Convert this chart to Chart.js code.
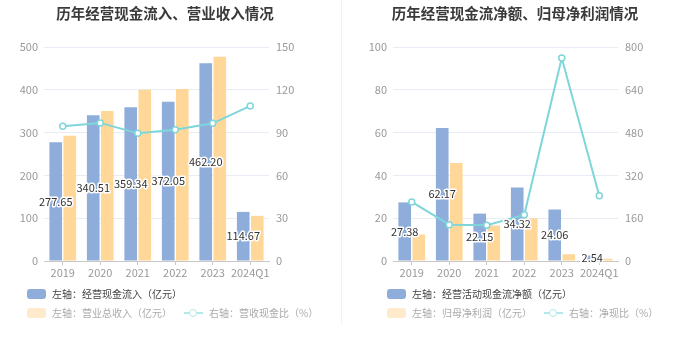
<!DOCTYPE html>
<html>
<head>
<meta charset="utf-8">
<script src="https://cdn.jsdelivr.net/npm/chart.js@4/dist/chart.umd.min.js"></script>
<style>
  html, body { margin: 0; padding: 0; background: #fff; }
  body { width: 680px; height: 349px; position: relative; overflow: hidden;
         font-family: 'Noto Sans CJK SC', 'Noto Sans', sans-serif; }
  .panel { position: absolute; top: 0; width: 340px; height: 349px; }
  .panel canvas { position: absolute; left: 0; top: 0; }
  .title { position: absolute; top: 2px; width: 340px; text-align: center;
           font-size: 14.5px; font-weight: bold; color: #3a3a3a; }
  .sep { position: absolute; left: 341px; top: 0; width: 1px; height: 325px; background: #f2f2f2; }
  .legend { position: absolute; font-size: 10px; white-space: nowrap; }
  .legend .row { height: 19px; display: flex; align-items: center; }
  .legend .item { display: flex; align-items: center; margin-right: 12px; }
  .legend .sw { width: 19px; height: 10px; border-radius: 3px; margin-right: 6px; }
  .legend .ln { width: 19px; height: 10px; position: relative; margin-right: 6px; }
  .legend .ln:before { content: ''; position: absolute; left: 0; right: 0; top: 4px; height: 2px; background: #b4e8ea; }
  .legend .ln:after { content: ''; position: absolute; left: 5px; top: 1px; width: 6px; height: 6px;
                      border: 1.5px solid #b4e8ea; border-radius: 50%; background: #fff; }
</style>
</head>
<body>

<div class="panel" style="left:0">
  <canvas id="chartLeft" width="340" height="349"></canvas>
  <div class="title" style="left:-5px">历年经营现金流入、营业收入情况</div>
  <div class="legend" style="left:27px; top:284px">
    <div class="row"><div class="item"><div class="sw" style="background:#8eaddb"></div><span style="color:#444">左轴：经营现金流入（亿元）</span></div></div>
    <div class="row"><div class="item"><div class="sw" style="background:#ffebcc"></div><span style="color:#aaa">左轴：营业总收入（亿元）</span></div>
      <div class="item"><div class="ln"></div><span style="color:#aaa">右轴：营收现金比（%）</span></div></div>
  </div>
</div>
<div class="sep"></div>
<div class="panel" style="left:340px">
  <canvas id="chartRight" width="340" height="349"></canvas>
  <div class="title" style="left:5px">历年经营现金流净额、归母净利润情况</div>
  <div class="legend" style="left:47px; top:284px">
    <div class="row"><div class="item"><div class="sw" style="background:#8eaddb"></div><span style="color:#444">左轴：经营活动现金流净额（亿元）</span></div></div>
    <div class="row"><div class="item"><div class="sw" style="background:#ffebcc"></div><span style="color:#aaa">左轴：归母净利润（亿元）</span></div>
      <div class="item"><div class="ln"></div><span style="color:#aaa">右轴：净现比（%）</span></div></div>
  </div>
</div>

<script>
// categories
const years = ['2019', '2020', '2021', '2022', '2023', '2024Q1'];

// left chart: 经营现金流入 / 营业总收入 (亿元), 营收现金比 (%)
const cashInflow = [277.65, 340.51, 359.34, 372.05, 462.20, 114.67];
const revenue = [292.5, 350.5, 400.0, 402.0, 477.5, 105.5];
const cashRevenueRatio = [94.5, 96.8, 89.5, 92.0, 96.5, 108.7];

// right chart: 经营活动现金流净额 / 归母净利润 (亿元), 净现比 (%)
const netCashFlow = [27.38, 62.17, 22.15, 34.32, 24.06, 2.54];
const netProfit = [12.4, 45.8, 16.6, 19.9, 3.17, 1.04];
const netCashRatio = [220.8, 135.7, 133.4, 172.5, 759.0, 244.0];

// axis ranges
const leftAxis = { max: 500, step: 100 };
const leftAxis2 = { max: 150, step: 30 };
const rightAxis = { max: 100, step: 20 };
const rightAxis2 = { max: 800, step: 160 };

const BLUE = '#8eaddb';
const ORANGE = '#ffd899';
const TEAL = '#7fd6da';
const FONT = "'Noto Sans CJK SC', 'Noto Sans', sans-serif";

// value labels in the middle of the first bar series
const barLabels = {
  id: 'barLabels',
  afterDraw(chart) {
    const ctx = chart.ctx;
    const meta = chart.getDatasetMeta(0);
    const data = chart.data.datasets[0].data;
    ctx.save();
    ctx.font = '11px ' + FONT;
    ctx.textAlign = 'center';
    ctx.textBaseline = 'middle';
    ctx.lineJoin = 'round';
    meta.data.forEach((bar, i) => {
      const txt = data[i].toFixed(2);
      const y = (bar.y + bar.base) / 2;
      ctx.strokeStyle = '#fff';
      ctx.lineWidth = 3;
      ctx.strokeText(txt, bar.x, y);
      ctx.fillStyle = '#333';
      ctx.fillText(txt, bar.x, y);
    });
    ctx.restore();
  }
};

function makeChart(id, bars1, bars2, line, axL, axR, wL, wR) {
  const ctx = document.getElementById(id).getContext('2d');
  return new Chart(ctx, {
    type: 'bar',
    data: {
      labels: years,
      datasets: [
        { type: 'bar', data: bars1, backgroundColor: BLUE, yAxisID: 'y', order: 2,
          categoryPercentage: 0.75, barPercentage: 0.9 },
        { type: 'bar', data: bars2, backgroundColor: ORANGE, yAxisID: 'y', order: 2,
          categoryPercentage: 0.75, barPercentage: 0.9 },
        { type: 'line', data: line, borderColor: TEAL, borderWidth: 2, yAxisID: 'y1', order: 1,
          pointRadius: 3, pointBorderWidth: 1.5, pointBackgroundColor: '#fff', pointBorderColor: TEAL,
          tension: 0 }
      ]
    },
    options: {
      responsive: false,
      animation: false,
      layout: { padding: { top: 47, bottom: 68, left: 0, right: 0 } },
      plugins: { legend: { display: false }, tooltip: { enabled: false } },
      scales: {
        x: {
          grid: { display: true, drawOnChartArea: false, drawTicks: true, tickLength: 4,
                  color: '#c8c8c8', offset: false },
          border: { color: '#c8c8c8' },
          ticks: { color: '#999', font: { size: 11, family: FONT }, padding: 1,
                   maxRotation: 0, autoSkip: false },
          afterFit: s => { s.height = 20; }
        },
        y: {
          position: 'left', min: 0, max: axL.max,
          ticks: { stepSize: axL.step, color: '#999', font: { size: 11, family: FONT }, padding: 6 },
          grid: { color: '#e8edf5', drawTicks: false },
          border: { display: false },
          afterFit: s => { s.width = wL; }
        },
        y1: {
          position: 'right', min: 0, max: axR.max,
          ticks: { stepSize: axR.step, color: '#999', font: { size: 11, family: FONT }, padding: 7 },
          grid: { display: false, drawTicks: false },
          border: { display: false },
          afterFit: s => { s.width = wR; }
        }
      }
    },
    plugins: [barLabels]
  });
}

document.addEventListener('DOMContentLoaded', () => {
  makeChart('chartLeft', cashInflow, revenue, cashRevenueRatio, leftAxis, leftAxis2, 44, 71);
  makeChart('chartRight', netCashFlow, netProfit, netCashRatio, rightAxis, rightAxis2, 53, 62);
});
</script>
</body>
</html>
